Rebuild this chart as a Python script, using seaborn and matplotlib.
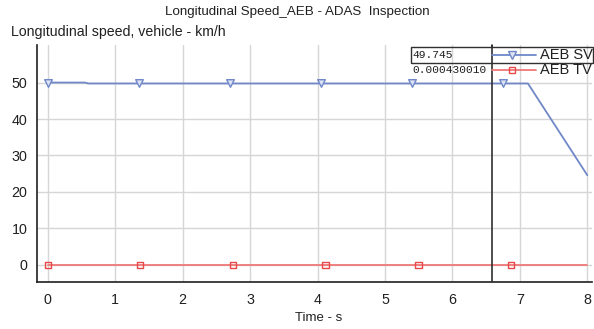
import numpy as np
import pandas as pd
import matplotlib
matplotlib.use("Agg")
import matplotlib.pyplot as plt
import seaborn as sb
from matplotlib.lines import Line2D
from matplotlib.patches import Rectangle

# data
sv_time = [0.0, 0.55, 0.6, 7.12, 8.0]
sv_speed = [50.0, 50.0, 49.745, 49.745, 24.6]
tv_time = [0.0, 8.0]
tv_speed = [0.00043, 0.00043]
sv_mark_t = [0.0, 1.35, 2.70, 4.05, 5.40, 6.75]
sv_mark_v = [50.0, 49.745, 49.745, 49.745, 49.745, 49.745]
tv_mark_t = [0.0, 1.37, 2.75, 4.12, 5.50, 6.87]
tv_mark_v = [0.00043] * 6
cursor_t = 6.59
series = ["AEB SV", "AEB TV"]
cursor_vals = ["49.745", "0.000430010"]

sv_col = "#7088c8"
tv_col = "#f07878"

sb.set_style("white")
plt.rcParams["font.family"] = ["Liberation Sans", "DejaVu Sans"]

fig = plt.figure(figsize=(5.94, 3.29), dpi=100)
ax = fig.add_axes([37 / 594, 1 - 282 / 329, 555 / 594, 237 / 329])

sv = pd.DataFrame({"t": sv_time, "v": sv_speed})
tv = pd.DataFrame({"t": tv_time, "v": tv_speed})
sb.lineplot(data=sv, x="t", y="v", ax=ax, color=sv_col, lw=1.3, zorder=3)
sb.lineplot(data=tv, x="t", y="v", ax=ax, color=tv_col, lw=1.3, zorder=3)
sb.scatterplot(x=sv_mark_t, y=sv_mark_v, ax=ax, marker="v", s=30,
               facecolor="#dde3f3", edgecolor=sv_col, linewidth=1.0, zorder=4)
sb.scatterplot(x=tv_mark_t, y=tv_mark_v, ax=ax, marker="s", s=22,
               facecolor="none", edgecolor="#e84848", linewidth=1.0, zorder=4)

ax.set_xlim(-0.16, 8.07)
ax.set_ylim(-4.7, 60.3)
ax.set_xticks(range(0, 9))
ax.set_yticks(range(0, 60, 10))
ax.grid(True, color="#d6d6d6", lw=1.0)
ax.set_axisbelow(True)
for s in ["top", "right"]:
    ax.spines[s].set_visible(False)
for s in ["left", "bottom"]:
    ax.spines[s].set_color("#202020")
    ax.spines[s].set_linewidth(1.2)
ax.tick_params(length=0, labelsize=10.3, colors="#202020")
ax.tick_params(axis="x", pad=8)
ax.tick_params(axis="y", pad=7)
ax.set_xlabel("")
ax.set_ylabel("")

# cursor line
ax.axvline(cursor_t, color="#303030", lw=1.2, ymax=1.0, zorder=5)
fig.add_artist(Line2D([492 / 594, 492 / 594], [1 - 45 / 329, 1 - 47 / 329],
                      color="#303030", lw=1.2))

fig.text(0.5, 1 - 12 / 329, "Longitudinal Speed_AEB - ADAS  Inspection",
         ha="center", va="center", fontsize=9.6, color="#202020")
fig.text(11 / 594, 1 - 32 / 329, "Longitudinal speed, vehicle - km/h",
         ha="left", va="center", fontsize=10.2, color="#202020")
fig.text(318.5 / 594, 1 - 318 / 329, "Time - s", ha="center", va="center",
         fontsize=9.5, color="#202020")

# cursor legend box
fig.add_artist(Rectangle((411 / 594, 1 - 63 / 329), 182 / 594, 16 / 329,
                         transform=fig.transFigure, fill=False,
                         edgecolor="#303030", lw=1.0))
rows_y = [55, 70]
cols = [sv_col, tv_col]
marks = ["v", "s"]
mfc = ["#dde3f3", "none"]
mec = [sv_col, "#e84848"]
msz = [5.5, 5.0]
for i in range(2):
    y = 1 - rows_y[i] / 329
    fig.text(412 / 594, y, cursor_vals[i], ha="left", va="center",
             family="Liberation Mono", fontsize=8.1, color="#202020")
    fig.add_artist(Line2D([492 / 594, 536 / 594], [y, y], color=cols[i], lw=1.3))
    fig.add_artist(Line2D([512 / 594], [y], marker=marks[i], ms=msz[i],
                          mfc=mfc[i], mec=mec[i], mew=1.0, lw=0))
    fig.text(540 / 594, y, series[i], ha="left", va="center",
             fontsize=10.5, color="#202020")

plt.savefig("out.png", dpi=100)
